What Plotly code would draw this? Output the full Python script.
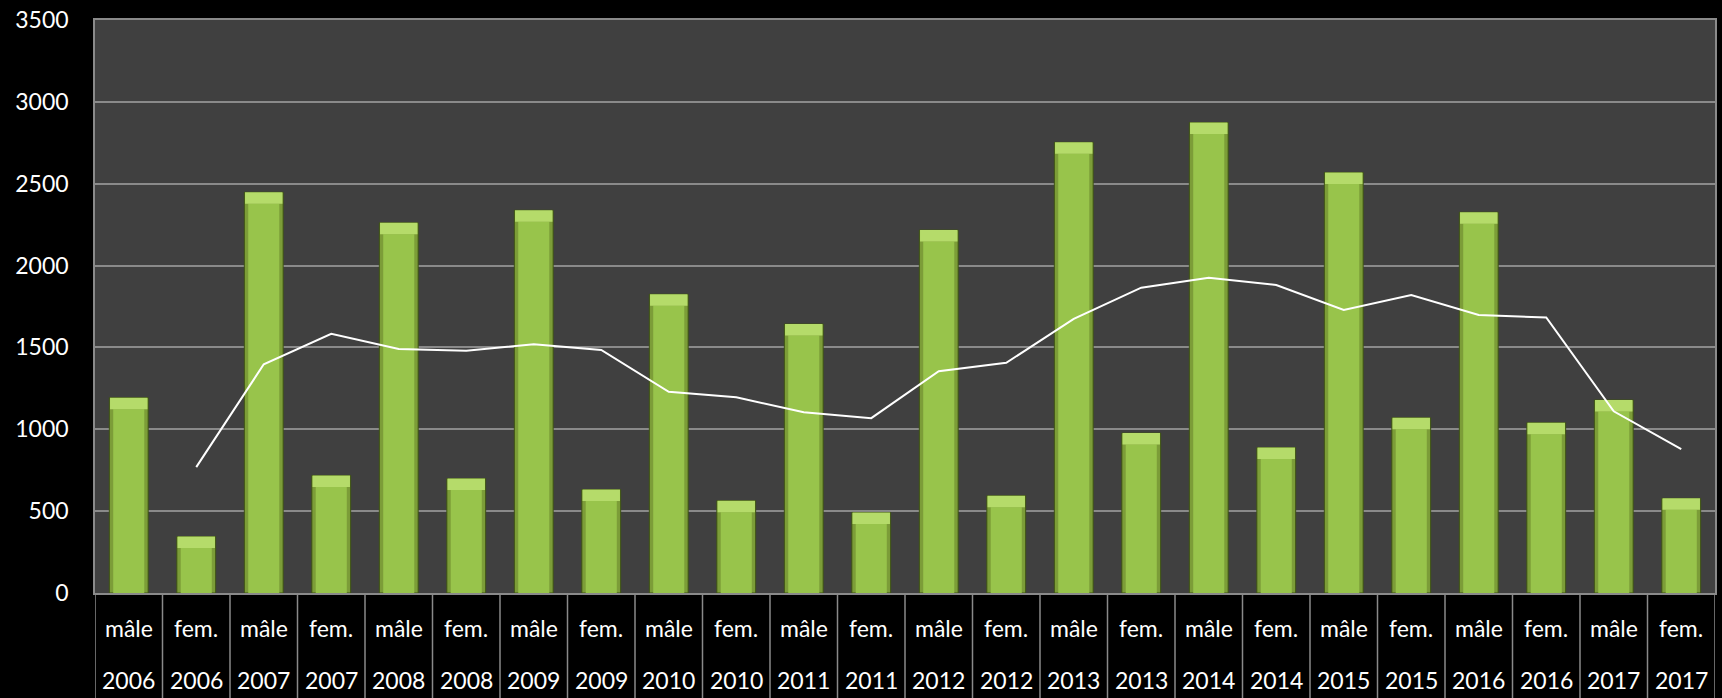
import plotly.graph_objects as go

# ---- data ----
years = ["2006", "2007", "2008", "2009", "2010", "2011",
         "2012", "2013", "2014", "2015", "2016", "2017"]
sex_labels = ["mâle", "fem."]
male = [1193, 2448, 2261, 2338, 1825, 1643, 2217, 2753, 2874, 2569, 2326, 1179]
female = [345, 718, 699, 632, 564, 492, 594, 977, 888, 1070, 1040, 578]
# white trend line (2-period moving average in the source), read point by point
trend = [None, 769, 1397, 1583, 1490, 1480, 1519, 1485, 1229, 1195, 1104, 1068,
         1355, 1406, 1674, 1865, 1926, 1881, 1729, 1820, 1698, 1683, 1110, 879]
y_ticks = [0, 500, 1000, 1500, 2000, 2500, 3000, 3500]

# ---- build interleaved categories ----
cats, vals, sex_of, year_of = [], [], [], []
for y, m, f in zip(years, male, female):
    for s, v in zip(sex_labels, (m, f)):
        cats.append(f"{s} {y}")
        vals.append(v)
        sex_of.append(s)
        year_of.append(y)

CAP = 70          # height of the light bevel cap (data units)
BAR_W = 0.575
INNER_W = 0.46
FONT = "Lato, 'Open Sans', sans-serif"
FSIZE = 23
GRID = "#8A8A8A"

fig = go.Figure()
# outer (darker edge) bar
fig.add_trace(go.Bar(x=cats, y=vals, width=BAR_W,
                     marker=dict(color="#7C9D38", line=dict(color="#3E5214", width=1)),
                     hoverinfo="x+y"))
# inner lighter body
fig.add_trace(go.Bar(x=cats, y=[v - CAP for v in vals], width=INNER_W,
                     marker=dict(color="#98C44B", line=dict(width=0)),
                     hoverinfo="skip"))
# top bevel cap
fig.add_trace(go.Bar(x=cats, y=[CAP] * len(vals), base=[v - CAP for v in vals],
                     width=BAR_W - 0.02,
                     marker=dict(color="#B5DB6A", line=dict(width=0)),
                     hoverinfo="skip"))
# trend line
fig.add_trace(go.Scatter(x=cats, y=trend, mode="lines",
                         line=dict(color="white", width=2),
                         connectgaps=False, hoverinfo="skip"))

# category table below the plot
annotations = []
shapes = []
for i, c in enumerate(cats):
    annotations.append(dict(x=c, xref="x", y=-0.061, yref="paper",
                            text=sex_of[i], showarrow=False, yanchor="middle",
                            font=dict(family=FONT, size=FSIZE, color="white")))
    annotations.append(dict(x=c, xref="x", y=-0.151, yref="paper",
                            text=year_of[i], showarrow=False, yanchor="middle",
                            font=dict(family=FONT, size=FSIZE, color="white")))
for i in range(len(cats) + 1):
    shapes.append(dict(type="line", xref="x", yref="paper",
                       x0=i - 0.5, x1=i - 0.5, y0=0, y1=-0.2,
                       line=dict(color=GRID, width=1.5)))

fig.update_layout(
    width=1722, height=698,
    paper_bgcolor="black", plot_bgcolor="#404040",
    margin=dict(l=95, r=5, t=18, b=105),
    barmode="overlay", showlegend=False,
    annotations=annotations, shapes=shapes,
    font=dict(family=FONT, color="white"),
)
fig.update_xaxes(type="category", range=[-0.5, len(cats) - 0.5],
                 showticklabels=False, showgrid=False, zeroline=False,
                 showline=True, mirror=True, linecolor=GRID, linewidth=1.5)
fig.update_yaxes(range=[0, 3500], tickvals=y_ticks,
                 ticktext=[str(t) for t in y_ticks],
                 showgrid=True, gridcolor=GRID, gridwidth=1.5,
                 zeroline=False, showline=True, mirror=True,
                 linecolor=GRID, linewidth=1.5,
                 ticklabelstandoff=20,
                 tickfont=dict(family=FONT, size=FSIZE, color="white"))

fig.write_html(
    "out.html",
    config={"displayModeBar": False},
    post_script="document.body.style.margin='0';document.body.style.overflow='hidden';",
)
